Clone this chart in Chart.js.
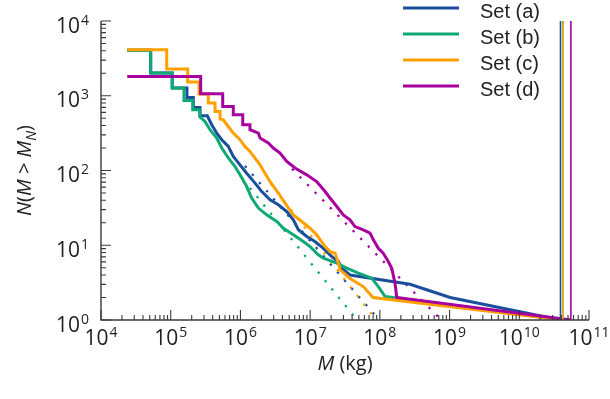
<!DOCTYPE html>
<html>
<head>
<meta charset="utf-8">
<script src="https://cdn.jsdelivr.net/npm/chart.js@4.4.0/dist/chart.umd.min.js"></script>
<style>
  html, body { margin: 0; padding: 0; background: #fff; }
  #wrap { width: 610px; height: 399px; }
</style>
</head>
<body>
<div id="wrap"><canvas id="massChart"></canvas></div>
<script>
// cumulative counts N(M > M_N)
const setLabels = ['Set (a)', 'Set (b)', 'Set (c)', 'Set (d)'];
const setColors = ['#1a4f9e', '#0fa877', '#ffa000', '#a8009f'];

const massA = [2.38e4, 5.16e4, 5.16e4, 1.05e5, 1.05e5, 1.71e5, 1.71e5, 2.11e5, 2.11e5, 2.63e5, 2.63e5, 3.35e5,
  3.87e5, 4.57e5, 5.4e5, 6.7e5, 7.9e5, 9.86e5, 1.23e6, 1.62e6, 2.02e6, 2.66e6, 3.5e6, 4.62e6, 5.74e6, 6.78e6,
  8.93e6, 1.17e7, 1.55e7, 2.04e7, 2.54e7, 2.84e7, 3.73e7, 2.71e8, 1.02e9, 3.9e10];
const countA = [4050, 4050, 2013, 2013, 1268, 1268, 949, 949, 697, 697, 540, 540,
  409, 317, 258, 210, 154, 119, 92, 67.8, 52.4, 40.5, 34.8, 28.3, 21.9, 16.1,
  13.1, 11.2, 9.1, 7.06, 6.05, 4.93, 4, 3, 2, 1];

const massB = [2.38e4, 5.16e4, 5.16e4, 1.05e5, 1.05e5, 1.55e5, 1.55e5, 2.07e5, 2.07e5, 2.63e5, 2.63e5, 3.1e5,
  3.66e5, 4.57e5, 5.4e5, 6.7e5, 8.37e5, 9.86e5, 1.23e6, 1.45e6, 1.81e6, 2.38e6, 3.32e6, 4.13e6, 5.74e6, 7.98e6,
  9.97e6, 1.31e7, 1.55e7, 2.41e7, 3.35e7, 4.92e7, 7.66e7, 9.5e7, 1.19e8, 4.2e10];
const countB = [4050, 4050, 2013, 2013, 1268, 1268, 865, 865, 650, 650, 519, 453,
  351, 272, 200, 147, 113, 87.5, 61, 42.8, 31.4, 25.5, 20.8, 16.9, 13.8, 11.2,
  9.6, 7.45, 6.7, 5.75, 4.93, 4.23, 3.63, 2.8, 2.06, 1];

const massC = [2.38e4, 8.77e4, 8.77e4, 1.75e5, 1.75e5, 2.55e5, 2.55e5, 3.46e5, 3.46e5, 4.32e5, 4.32e5, 5.1e5, 5.1e5,
  5.69e5, 6.7e5, 7.9e5, 9.86e5, 1.16e6, 1.37e6, 1.62e6, 1.91e6, 2.25e6, 2.66e6, 3.5e6, 4.36e6, 5.74e6, 7.57e6,
  9.97e6, 1.24e7, 1.64e7, 1.93e7, 2.28e7, 2.54e7, 2.69e7, 3.73e7, 5.79e7, 7.98e7, 4.2e10];
const countC = [4130, 4130, 2277, 2277, 1525, 1525, 1054, 1054, 798, 798, 616, 616, 488,
  477, 388, 317, 258, 210, 180, 146, 119, 92, 71, 50, 36.6, 25.5, 20.8,
  16.9, 13.8, 9.6, 8.2, 7.8, 5.75, 4.7, 3.6, 2.8, 2, 1];

const massD = [2.38e4, 2.69e5, 2.69e5, 5.57e5, 5.57e5, 7.9e5, 7.9e5, 1.08e6, 1.08e6, 1.37e6, 1.37e6, 1.81e6,
  1.91e6, 2.51e6, 2.96e6, 3.7e6, 4.62e6, 6.07e6, 8.93e6, 1.24e7, 1.64e7, 1.93e7, 2.41e7, 2.99e7, 3.73e7, 4.4e7,
  5.79e7, 7.23e7, 8.07e7, 9.5e7, 1.12e8, 1.32e8, 1.48e8, 1.65e8, 1.75e8, 5.5e10];
const countD = [1813, 1813, 1064, 1064, 719, 719, 557, 557, 409, 409, 351, 317,
  272, 233, 200, 171, 132, 108, 87.5, 71.2, 52.4, 42.8, 33, 25.5, 21.9, 17.8,
  16.1, 14.5, 11.8, 9.1, 7.8, 6.05, 4.93, 3.1, 2, 1];

// power-law fits (dotted), start and end points
const fitMassA = [1.16e6, 9.8e7], fitCountA = [115, 1];
const fitMassB = [1.37e6, 4.7e7], fitCountB = [58.6, 1];
const fitMassC = [2.75e6, 8.8e7], fitCountC = [66, 1];
const fitMassD = [5.5e6, 7.6e8], fitCountD = [105, 1];

// largest mass of each set (vertical lines)
const maxMass = [3.9e10, 4.2e10, 4.2e10, 5.5e10];

const xExponents = [4, 5, 6, 7, 8, 9, 10, 11];
const yExponents = [0, 1, 2, 3, 4];

const axisColor = '#3a3a3a';
const textColor = '#222';
const tickFont = '"Open Sans", "Liberation Sans", sans-serif';
const legendFont = '"Liberation Sans", Arial, sans-serif';

const pts = (ms, ns) => ms.map((m, i) => ({ x: m, y: ns[i] }));

const masses = [massA, massB, massC, massD];
const counts = [countA, countB, countC, countD];
const fitM = [fitMassA, fitMassB, fitMassC, fitMassD];
const fitN = [fitCountA, fitCountB, fitCountC, fitCountD];

const datasets = [];
setLabels.forEach((label, i) => {
    datasets.push({
        label: label,
        data: pts(masses[i], counts[i]),
        borderColor: setColors[i],
        borderWidth: 3,
        order: 10 - i
    });
    datasets.push({
        label: label + ' fit',
        data: pts(fitM[i], fitN[i]),
        borderColor: setColors[i],
        borderWidth: 2.3,
        borderDash: [2.3, 8.5],
        order: 20 - i
    });
    datasets.push({
        label: label + ' max',
        data: pts([maxMass[i], maxMass[i]], [1, 10 ** yExponents[yExponents.length - 1]]),
        borderColor: setColors[i],
        borderWidth: 1.6,
        order: 5 - i
    });
});

const drawPower = (ctx, exp, x, baseY, align) => {
    const base = `21px ${tickFont}`;
    const sup = `14px ${tickFont}`;
    ctx.font = base;
    const wb = ctx.measureText('10').width;
    ctx.font = sup;
    const ws = ctx.measureText(String(exp)).width;
    const total = wb + 1 + ws;
    const left = align === 'center' ? x - total / 2 : x - total;
    ctx.textAlign = 'left';
    ctx.textBaseline = 'alphabetic';
    ctx.font = base;
    ctx.fillText('10', left, baseY);
    ctx.font = sup;
    ctx.fillText(String(exp), left + wb + 1, baseY - 8);
};

const drawPieces = (ctx, pieces, cx, baseY) => {
    const fontOf = p => p[1] === 'i' ? `italic 20px ${tickFont}` :
        p[1] === 'sub' ? `italic 14px ${tickFont}` : `20px ${tickFont}`;
    let total = 0;
    pieces.forEach(p => { ctx.font = fontOf(p); total += ctx.measureText(p[0]).width; });
    let pos = cx - total / 2;
    ctx.textAlign = 'left';
    ctx.textBaseline = 'alphabetic';
    pieces.forEach(p => {
        ctx.font = fontOf(p);
        ctx.fillText(p[0], pos, p[1] === 'sub' ? baseY + 5 : baseY);
        pos += ctx.measureText(p[0]).width;
    });
};

const axisDecor = {
    id: 'axisDecor',
    afterDraw(chart) {
        const { ctx, chartArea: a } = chart;
        const x = chart.scales.x, y = chart.scales.y;
        const xMax = 10 ** xExponents[xExponents.length - 1];
        const yMax = 10 ** yExponents[yExponents.length - 1];
        ctx.save();
        ctx.strokeStyle = axisColor;
        ctx.lineWidth = 1.4;
        ctx.beginPath();
        ctx.moveTo(a.left, a.top);
        ctx.lineTo(a.left, a.bottom);
        ctx.lineTo(a.right, a.bottom);
        ctx.stroke();

        ctx.lineWidth = 1.1;
        ctx.beginPath();
        xExponents.forEach(e => {
            for (let k = 1; k <= 9; k++) {
                const v = k * 10 ** e;
                if (v > xMax * 1.0001) break;
                const px = x.getPixelForValue(v);
                const len = k === 1 ? 10 : 5;
                ctx.moveTo(px, a.bottom);
                ctx.lineTo(px, a.bottom - len);
            }
        });
        yExponents.forEach(e => {
            for (let k = 1; k <= 9; k++) {
                const v = k * 10 ** e;
                if (v > yMax * 1.0001) break;
                const py = y.getPixelForValue(v);
                const len = k === 1 ? 10 : 5;
                ctx.moveTo(a.left, py);
                ctx.lineTo(a.left + len, py);
            }
        });
        ctx.stroke();

        ctx.fillStyle = textColor;
        xExponents.forEach(e => drawPower(ctx, e, x.getPixelForValue(10 ** e), a.bottom + 25, 'center'));
        yExponents.forEach(e => drawPower(ctx, e, a.left - 12, y.getPixelForValue(10 ** e) + 11.5, 'right'));

        // axis titles
        drawPieces(ctx, [['M', 'i'], [' (kg)', 'n']], (a.left + a.right) / 2, a.bottom + 50);
        ctx.save();
        ctx.translate(31, (a.top + a.bottom) / 2);
        ctx.rotate(-Math.PI / 2);
        drawPieces(ctx, [['N', 'i'], ['(', 'n'], ['M', 'i'], [' > ', 'n'], ['M', 'i'], ['N', 'sub'], [')', 'n']], 0, 0);
        ctx.restore();

        // legend
        ctx.font = `20px ${legendFont}`;
        ctx.textAlign = 'left';
        ctx.textBaseline = 'alphabetic';
        setLabels.forEach((label, i) => {
            const ly = 8 + 26 * i;
            ctx.strokeStyle = setColors[i];
            ctx.lineWidth = 3;
            ctx.beginPath();
            ctx.moveTo(403, ly);
            ctx.lineTo(459, ly);
            ctx.stroke();
            ctx.fillStyle = textColor;
            ctx.fillText(label, 480, ly + 10);
        });
        ctx.restore();
    }
};

const chartConfig = {
    type: 'line',
    data: { datasets: datasets },
    options: {
        responsive: true,
        maintainAspectRatio: false,
        animation: false,
        layout: { padding: { left: 101, right: 21, top: 21, bottom: 79 } },
        elements: { point: { radius: 0 }, line: { tension: 0, fill: false } },
        plugins: { legend: { display: false }, tooltip: { enabled: false } },
        scales: {
            x: { type: 'logarithmic', min: 1e4, max: 1e11, display: false },
            y: { type: 'logarithmic', min: 1, max: 1e4, display: false }
        }
    },
    plugins: [axisDecor]
};

const ctx = document.getElementById('massChart').getContext('2d');
new Chart(ctx, chartConfig);
</script>
</body>
</html>
